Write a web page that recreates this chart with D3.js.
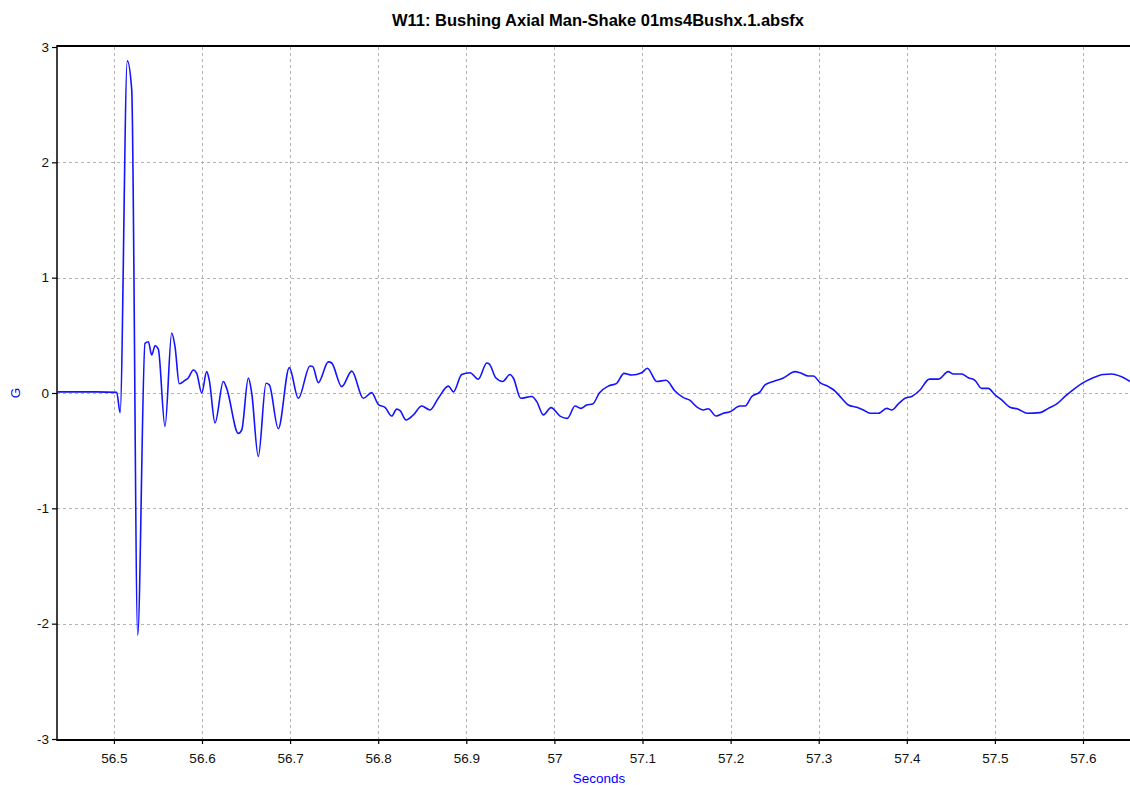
<!DOCTYPE html>
<html><head><meta charset="utf-8">
<script src="https://cdn.jsdelivr.net/npm/d3@7"></script>
<style>
body{margin:0;background:#fff;}
svg{display:block;font-family:"Liberation Sans",Arial,sans-serif;}
</style></head>
<body>
<svg id="chart" width="1130" height="785"></svg>
<script>
const title = "W11: Bushing Axial Man-Shake 01ms4Bushx.1.absfx";
const xLabel = "Seconds";
const yLabel = "G";
const xTicks = [56.5,56.6,56.7,56.8,56.9,57,57.1,57.2,57.3,57.4,57.5,57.6];
const yTicks = [-3,-2,-1,0,1,2,3];
const xDomain = [56.4354, 57.6545];
const yDomain = [-3, 3];

const times = [56.4354,56.4800,56.5032,56.5070,56.5152,56.5202,56.5270,56.5353,56.5391,56.5429,56.5467,56.5504,56.5580,56.5656,56.5694,56.5742,56.5807,56.5844,56.5901,56.5940,56.5997,56.6053,56.6083,56.6148,56.6242,56.6280,56.6412,56.6451,56.6526,56.6564,56.6639,56.6727,56.6764,56.6866,56.6991,56.7093,56.7226,56.7257,56.7320,56.7434,56.7472,56.7586,56.7700,56.7831,56.7926,56.8002,56.8077,56.8153,56.8210,56.8248,56.8316,56.8399,56.8494,56.8588,56.8682,56.8796,56.8853,56.8948,56.9042,56.9137,56.9232,56.9262,56.9337,56.9413,56.9496,56.9534,56.9618,56.9743,56.9800,56.9874,56.9962,57.0064,57.0147,57.0234,57.0299,57.0367,57.0435,57.0510,57.0612,57.0707,57.0790,57.0878,57.0991,57.1055,57.1162,57.1267,57.1369,57.1464,57.1532,57.1616,57.1691,57.1747,57.1835,57.1918,57.1994,57.2107,57.2164,57.2240,57.2334,57.2391,57.2485,57.2599,57.2732,57.2788,57.2883,57.2939,57.3015,57.3110,57.3186,57.3261,57.3336,57.3432,57.3507,57.3583,57.3677,57.3772,57.3829,57.3904,57.3980,57.4056,57.4150,57.4256,57.4358,57.4471,57.4528,57.4623,57.4698,57.4774,57.4850,57.4925,57.5001,57.5077,57.5171,57.5266,57.5368,57.5512,57.5606,57.5702,57.5796,57.5909,57.6003,57.6117,57.6230,57.6326,57.6439,57.6533];
const gValues = [0.01,0.01,0.005,-0.17,2.88,2.63,-2.10,0.43,0.445,0.33,0.41,0.38,-0.29,0.52,0.40,0.08,0.11,0.13,0.20,0.17,0.0,0.185,0.11,-0.26,0.10,0.04,-0.35,-0.32,0.13,0.0,-0.55,0.084,0.07,-0.31,0.22,-0.046,0.234,0.23,0.09,0.27,0.26,0.055,0.19,-0.046,0.003,-0.10,-0.124,-0.20,-0.14,-0.153,-0.234,-0.19,-0.113,-0.147,-0.046,0.06,0.01,0.16,0.176,0.12,0.26,0.25,0.13,0.10,0.16,0.13,-0.046,-0.03,-0.075,-0.19,-0.127,-0.20,-0.22,-0.113,-0.133,-0.104,-0.095,0.0,0.06,0.084,0.17,0.156,0.176,0.214,0.10,0.11,0.017,-0.04,-0.06,-0.12,-0.147,-0.136,-0.20,-0.176,-0.162,-0.113,-0.113,-0.03,0.01,0.07,0.10,0.13,0.185,0.176,0.147,0.147,0.09,0.055,0.017,-0.046,-0.104,-0.124,-0.147,-0.176,-0.176,-0.133,-0.147,-0.095,-0.046,-0.03,0.026,0.12,0.12,0.185,0.165,0.165,0.133,0.11,0.04,0.04,-0.017,-0.06,-0.124,-0.14,-0.176,-0.17,-0.133,-0.095,-0.03,0.04,0.09,0.133,0.16,0.165,0.14,0.10];

const svg = d3.select("#chart");
const L = 57, R = 1131, T = 47, B = 739;
const x = d3.scaleLinear().domain(xDomain).range([L, R]);
const y = d3.scaleLinear().domain(yDomain).range([B, T]);
const fmt = d => String(d);

// grid
const grid = svg.append("g").attr("stroke", "#b4b4b4").attr("stroke-width", 1).attr("stroke-dasharray", "3,3");
grid.selectAll("line.v").data(xTicks).join("line")
  .attr("x1", d => Math.round(x(d)) + 0.5).attr("x2", d => Math.round(x(d)) + 0.5)
  .attr("y1", T).attr("y2", B);
grid.selectAll("line.h").data(yTicks.filter(d => d > -3 && d < 3)).join("line")
  .attr("x1", L).attr("x2", R)
  .attr("y1", d => Math.round(y(d)) + 0.5).attr("y2", d => Math.round(y(d)) + 0.5);

// axes
const xAxis = d3.axisBottom(x).tickValues(xTicks).tickFormat(fmt).tickSize(5).tickSizeOuter(0);
const yAxis = d3.axisLeft(y).tickValues(yTicks).tickFormat(fmt).tickSize(5).tickSizeOuter(0);
const gx = svg.append("g").attr("transform", `translate(0,${B})`).call(xAxis);
const gy = svg.append("g").attr("transform", `translate(${L},0)`).call(yAxis);
[gx, gy].forEach(g => {
  g.selectAll("text").attr("font-size", 13.5).attr("fill", "#111").attr("font-family", "'Liberation Sans',Arial,sans-serif");
  g.selectAll(".tick line").attr("stroke", "#000").attr("stroke-width", 1.2);
  g.select(".domain").attr("stroke", "none");
});
gx.selectAll("text").attr("dy", "1.2em");
gy.selectAll("text").attr("dx", "0em");

// frame lines
svg.append("line").attr("x1", L).attr("x2", R).attr("y1", T - 1).attr("y2", T - 1).attr("stroke", "#000").attr("stroke-width", 2);
svg.append("line").attr("x1", L).attr("x2", R).attr("y1", B + 1).attr("y2", B + 1).attr("stroke", "#000").attr("stroke-width", 2);
svg.append("line").attr("x1", L).attr("x2", L).attr("y1", T - 2).attr("y2", B + 2).attr("stroke", "#000").attr("stroke-width", 1.5);

// data line
const data = times.map((t, i) => [t, gValues[i]]);
svg.append("defs").append("clipPath").attr("id", "clip").append("rect")
  .attr("x", L).attr("y", T - 2).attr("width", R - L).attr("height", B - T + 4);
svg.append("path").datum(data)
  .attr("clip-path", "url(#clip)")
  .attr("fill", "none").attr("stroke", "#1414ff").attr("stroke-width", 1.6)
  .attr("stroke-linejoin", "round")
  .attr("d", d3.line().x(d => x(d[0])).y(d => y(d[1])).curve(d3.curveMonotoneX));

// labels
svg.append("text").attr("x", 598).attr("y", 26).attr("text-anchor", "middle")
  .attr("font-size", 16.5).attr("font-weight", "bold").attr("fill", "#000").text(title);
svg.append("text").attr("x", 599).attr("y", 783).attr("text-anchor", "middle")
  .attr("font-size", 13.5).attr("fill", "#0000ff").text(xLabel);
svg.append("text").attr("transform", "translate(20,393) rotate(-90)").attr("text-anchor", "middle")
  .attr("font-size", 13.5).attr("fill", "#0000ff").text(yLabel);
</script>
</body></html>
